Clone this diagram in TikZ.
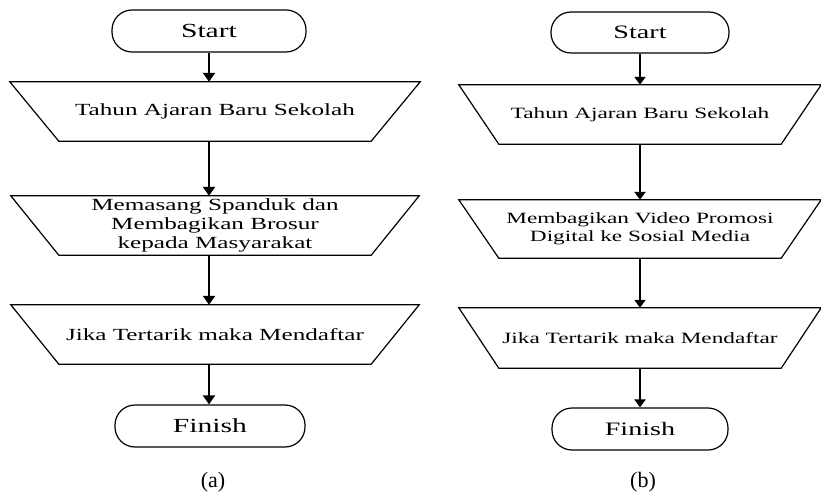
\documentclass[tikz,border=0pt]{standalone}
\usepackage{fontspec}
\setmainfont{Liberation Serif}
\newfontfamily\widefont[FakeStretch=1.48]{Liberation Serif}
\usetikzlibrary{arrows.meta}
\tikzset{
  term/.style={draw, line width=1.2pt, rounded corners=20pt, inner sep=0pt, align=center},
  trapbox/.style={inner sep=0pt, align=center},
  flow/.style={line width=2.4pt, -{Triangle[width=12pt,length=9pt]}},
  flowb/.style={line width=1.9pt, -{Triangle[width=11pt,length=8pt]}},
  bigL/.style={font=\fontsize{17}{19}\selectfont\widefont},
  bigR/.style={font=\fontsize{15.7}{18}\selectfont\widefont},
  termL/.style={font=\fontsize{20}{22}\selectfont\widefont},
  termR/.style={font=\fontsize{19}{21}\selectfont\widefont},
  captext/.style={inner sep=0pt},
}
\newcommand\trapdraw[2]{\draw[line width=1.2pt] (#1.north west) -- (#1.north east) -- ([xshift=-#2]#1.south east) -- ([xshift=#2]#1.south west) -- cycle;}
\begin{document}
\begin{tikzpicture}[x=1pt,y=-1pt]
\useasboundingbox (0,0) rectangle (821,494);
% (a)
\node[term, termL, minimum width=194pt, minimum height=42pt] (s1) at (209,31) {Start};
\node[trapbox, bigL, minimum width=410pt, minimum height=59pt] (t1) at (215,111.5) {Tahun Ajaran Baru Sekolah};
\node[trapbox, bigL, minimum width=408pt, minimum height=59pt] (t2) at (215,225.5) {Memasang Spanduk dan\\Membagikan Brosur\\kepada Masyarakat};
\node[trapbox, bigL, minimum width=408pt, minimum height=59pt] (t3) at (215,334.5) {Jika Tertarik maka Mendaftar};
\node[term, termL, minimum width=190pt, minimum height=42pt] (f1) at (210,426) {Finish};
\trapdraw{t1}{49pt}
\trapdraw{t2}{48pt}
\trapdraw{t3}{48pt}
\draw[flow] (s1.south) -- (s1.south |- t1.north);
\draw[flow] (s1.south |- t1.south) -- (s1.south |- t2.north);
\draw[flow] (s1.south |- t2.south) -- (s1.south |- t3.north);
\draw[flow] (s1.south |- t3.south) -- (s1.south |- f1.north);
\node[captext] (ca) at (213,482) {\fontsize{22}{24}\selectfont (a)};
% (b)
\node[term, termR, minimum width=178pt, minimum height=41pt] (s2) at (640,32.5) {Start};
\node[trapbox, bigR, minimum width=362pt, minimum height=59pt] (u1) at (640,114.5) {Tahun Ajaran Baru Sekolah};
\node[trapbox, bigR, minimum width=362pt, minimum height=58pt] (u2) at (640,229) {Membagikan Video Promosi\\Digital ke Sosial Media};
\node[trapbox, bigR, minimum width=362pt, minimum height=60pt] (u3) at (640,338) {Jika Tertarik maka Mendaftar};
\node[term, termR, minimum width=176pt, minimum height=42pt] (f2) at (640,429) {Finish};
\trapdraw{u1}{40pt}
\trapdraw{u2}{40pt}
\trapdraw{u3}{40pt}
\draw[flowb] (s2.south) -- (s2.south |- u1.north);
\draw[flowb] (s2.south |- u1.south) -- (s2.south |- u2.north);
\draw[flowb] (s2.south |- u2.south) -- (s2.south |- u3.north);
\draw[flowb] (s2.south |- u3.south) -- (s2.south |- f2.north);
\node[captext] (cb) at (643,482) {\fontsize{22}{24}\selectfont (b)};
\end{tikzpicture}
\end{document}
